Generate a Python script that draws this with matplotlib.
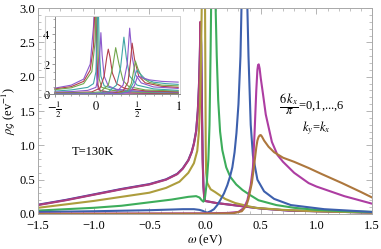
import matplotlib
matplotlib.use('Agg')
import matplotlib.pyplot as plt
from matplotlib.ticker import MultipleLocator, FixedLocator

plt.rcParams['font.family'] = ['Liberation Serif', 'DejaVu Serif']
plt.rcParams['mathtext.fontset'] = 'stix'

# main panel: rho_G(omega) for 6 kx/pi = 0..6, ky = kx
w0 = [-1.5, -1.25, -1.0, -0.75, -0.5, -0.35, -0.25, -0.2, -0.15, -0.12, -0.1, -0.08, -0.065, -0.055,
      -0.048, -0.04, -0.034, -0.028, -0.021, -0.014, -0.008, 0.0, 0.1, 0.2, 0.35, 0.5, 0.75, 1.0, 1.5]
r0 = [0.135, 0.205, 0.285, 0.365, 0.435, 0.505, 0.585, 0.665, 0.785, 0.905, 1.03, 1.21, 1.5, 1.85,
      2.25, 2.75, 2.45, 1.6, 0.8, 0.4, 0.25, 0.19, 0.16, 0.14, 0.11, 0.08, 0.05, 0.04, 0.02]

w1 = [-1.5, -1.25, -1.0, -0.75, -0.5, -0.35, -0.25, -0.2, -0.15, -0.12, -0.1, -0.08, -0.065, -0.055,
      -0.047, -0.042, -0.036, -0.03, -0.022, -0.015, -0.008, 0.0, 0.1, 0.2, 0.35, 0.5, 0.75, 1.0, 1.5]
r1 = [0.13, 0.2, 0.28, 0.36, 0.43, 0.5, 0.58, 0.66, 0.78, 0.9, 1.02, 1.2, 1.5, 1.85,
      2.3, 2.8, 2.5, 1.6, 0.8, 0.4, 0.25, 0.19, 0.16, 0.14, 0.11, 0.08, 0.05, 0.04, 0.02]

w2 = [-1.5, -1.25, -1.0, -0.75, -0.5, -0.35, -0.23, -0.15, -0.1, -0.07, -0.055, -0.045, -0.037, -0.03,
      -0.02, -0.012, -0.005, 0.0, 0.003, 0.006, 0.01, 0.02, 0.05, 0.09, 0.18, 0.27, 0.45, 0.7, 1.0, 1.5]
r2 = [0.09, 0.14, 0.19, 0.25, 0.31, 0.38, 0.47, 0.6, 0.74, 0.92, 1.2, 1.6, 2.2, 3.0,
      4.5, 5.0, 4.0, 3.0, 2.0, 1.0, 0.6, 0.45, 0.36, 0.32, 0.22, 0.16, 0.09, 0.06, 0.04, 0.02]

w3 = [-1.5, -1.0, -0.75, -0.5, -0.3, -0.15, -0.08, -0.05, -0.03, -0.015, 0.0, 0.015, 0.03, 0.04, 0.05,
      0.058, 0.072, 0.085, 0.095, 0.105, 0.118, 0.135, 0.155, 0.19, 0.227, 0.28, 0.336, 0.4, 0.48,
      0.64, 0.8, 1.0, 1.25, 1.5]
r3 = [0.05, 0.09, 0.12, 0.17, 0.21, 0.25, 0.26, 0.24, 0.2, 0.18, 0.25, 0.45, 0.8, 1.3, 2.4,
      3.5, 5.5, 4.0, 3.0, 2.3, 1.66, 1.2, 0.93, 0.68, 0.54, 0.43, 0.35, 0.28, 0.2,
      0.13, 0.09, 0.06, 0.04, 0.03]

w4 = [-1.5, -1.0, -0.5, -0.2, -0.1, -0.05, -0.02, 0.0, 0.02, 0.05, 0.08, 0.11, 0.136, 0.17, 0.2,
      0.225, 0.245, 0.265, 0.282, 0.3, 0.318, 0.327, 0.34, 0.355, 0.37, 0.38, 0.39, 0.41, 0.43,
      0.47, 0.53, 0.62, 0.77, 1.07, 1.5]
r4 = [0.03, 0.04, 0.055, 0.07, 0.07, 0.06, 0.045, 0.03, 0.02, 0.04, 0.07, 0.13, 0.2, 0.3, 0.42,
      0.55, 0.68, 0.9, 1.18, 1.6, 2.3, 3.0, 4.0, 4.5, 4.0, 3.0, 2.3, 1.3, 0.85,
      0.5, 0.33, 0.22, 0.13, 0.07, 0.03]

w5 = [-1.5, -0.5, 0.0, 0.2, 0.3, 0.35, 0.38, 0.41, 0.43, 0.445, 0.46, 0.47, 0.476, 0.482, 0.49, 0.5,
      0.52, 0.545, 0.6, 0.65, 0.7, 0.8, 0.93, 1.0, 1.25, 1.5]
r5 = [0.005, 0.008, 0.01, 0.015, 0.03, 0.09, 0.2, 0.42, 0.68, 1.2, 1.8, 2.1, 2.17, 2.18, 2.12, 1.98,
      1.75, 1.45, 1.05, 0.86, 0.76, 0.6, 0.45, 0.4, 0.26, 0.15]

w6 = [-1.5, 0.0, 0.25, 0.33, 0.37, 0.39, 0.42, 0.44, 0.46, 0.47, 0.48, 0.49, 0.5, 0.51, 0.53, 0.57,
      0.62, 0.7, 0.8, 0.93, 1.05, 1.23, 1.4, 1.5]
r6 = [0.0, 0.005, 0.01, 0.04, 0.12, 0.22, 0.45, 0.7, 0.97, 1.07, 1.12, 1.145, 1.15, 1.13, 1.07, 0.98,
      0.9, 0.82, 0.76, 0.67, 0.58, 0.45, 0.32, 0.24]

main_w = [w0, w1, w2, w3, w4, w5, w6]
main_r = [r0, r1, r2, r3, r4, r5, r6]
main_colors = ['#3F3DAD', '#AD3D7C', '#AD9D3D', '#3DAD5B', '#3D60AD', '#AD3DA2', '#AD773D']

# inset: finer set of k points along the diagonal (plot range -1/2 .. 1)
inset_w = [
    [-0.5, -0.3, -0.15, -0.07, -0.03, -0.01, 0.0, 0.01, 0.03, 0.1, 0.3, 0.6, 1.0],
    [-0.5, -0.3, -0.15, -0.07, -0.03, -0.005, 0.01, 0.025, 0.05, 0.15, 0.4, 1.0],
    [-0.5, -0.3, -0.15, -0.05, -0.01, 0.01, 0.025, 0.04, 0.07, 0.2, 0.5, 1.0],
    [-0.5, -0.3, -0.1, -0.03, 0.0, 0.015, 0.025, 0.04, 0.06, 0.1, 0.25, 0.5, 1.0],
    [-0.5, -0.3, -0.1, 0.0, 0.03, 0.045, 0.06, 0.075, 0.1, 0.15, 0.25, 0.5, 1.0],
    [-0.5, -0.3, -0.05, 0.05, 0.1, 0.13, 0.15, 0.17, 0.2, 0.25, 0.35, 0.6, 1.0],
    [-0.5, -0.1, 0.05, 0.15, 0.2, 0.24, 0.28, 0.33, 0.4, 0.6, 1.0],
    [-0.5, 0.0, 0.15, 0.25, 0.3, 0.34, 0.37, 0.41, 0.5, 0.7, 1.0],
    [-0.5, 0.1, 0.25, 0.33, 0.38, 0.41, 0.44, 0.48, 0.55, 0.7, 1.0],
    [-0.5, 0.2, 0.33, 0.39, 0.42, 0.44, 0.47, 0.52, 0.6, 0.8, 1.0],
    [-0.5, 0.25, 0.38, 0.43, 0.46, 0.48, 0.51, 0.56, 0.65, 0.8, 1.0],
    [-0.5, 0.3, 0.4, 0.45, 0.48, 0.5, 0.53, 0.6, 0.7, 0.85, 1.0],
    [-0.5, 0.3, 0.42, 0.47, 0.5, 0.52, 0.56, 0.65, 0.8, 1.0],
]
inset_r = [
    [0.4, 0.6, 1.0, 2.0, 4.5, 7.0, 4.0, 1.0, 0.3, 0.15, 0.08, 0.05, 0.03],
    [0.35, 0.5, 0.85, 1.6, 3.2, 7.0, 3.0, 0.6, 0.25, 0.15, 0.08, 0.04],
    [0.3, 0.42, 0.7, 1.5, 3.5, 7.0, 3.0, 1.0, 0.45, 0.25, 0.13, 0.07],
    [0.2, 0.28, 0.45, 0.7, 1.5, 4.0, 7.0, 3.0, 1.2, 0.55, 0.3, 0.18, 0.1],
    [0.14, 0.17, 0.25, 0.45, 1.2, 2.5, 4.1, 2.6, 1.2, 0.55, 0.32, 0.2, 0.12],
    [0.09, 0.1, 0.15, 0.4, 1.2, 2.4, 3.0, 2.5, 1.4, 0.7, 0.38, 0.22, 0.15],
    [0.06, 0.08, 0.15, 0.6, 1.7, 3.1, 2.0, 0.9, 0.5, 0.28, 0.2],
    [0.04, 0.06, 0.15, 0.6, 1.8, 3.8, 2.4, 1.2, 0.6, 0.35, 0.25],
    [0.03, 0.05, 0.15, 0.6, 2.0, 4.4, 2.5, 1.3, 0.75, 0.48, 0.38],
    [0.02, 0.05, 0.2, 0.8, 2.2, 3.4, 2.3, 1.2, 0.75, 0.52, 0.45],
    [0.02, 0.05, 0.2, 0.7, 1.6, 2.2, 1.7, 1.1, 0.78, 0.6, 0.55],
    [0.01, 0.04, 0.2, 0.7, 1.35, 1.6, 1.4, 1.0, 0.8, 0.7, 0.65],
    [0.01, 0.03, 0.15, 0.6, 1.1, 1.2, 1.1, 0.95, 0.85, 0.8],
]
inset_palette = ['#8C5ACC', '#B3404D', '#73A64D', '#40A6A6']

frame_gray = '#a8a8a8'

fig = plt.figure(figsize=(3.81, 2.49), dpi=100)
ax = fig.add_axes([0.0997, 0.1406, 0.877, 0.827])

for w, r, c in zip(main_w, main_r, main_colors):
    ax.plot(w, r, color=c, lw=1.5, solid_joinstyle='round')

ax.set_xlim(-1.5, 1.5)
ax.set_ylim(0, 3.0)
ax.xaxis.set_major_locator(MultipleLocator(0.5))
ax.xaxis.set_minor_locator(MultipleLocator(0.1))
ax.yaxis.set_major_locator(MultipleLocator(0.5))
ax.yaxis.set_minor_locator(MultipleLocator(0.1))
ax.xaxis.set_major_formatter(lambda v, p: f'{v:.1f}'.replace('-', '\u2212'))
ax.yaxis.set_major_formatter(lambda v, p: f'{v:.1f}')
ax.tick_params(which='both', direction='in', top=True, right=True, color=frame_gray,
               labelsize=9, pad=2)
ax.tick_params(axis='x', pad=4.5)
ax.tick_params(which='major', length=4, width=0.6)
ax.tick_params(which='minor', length=2, width=0.5)
for s in ax.spines.values():
    s.set_color(frame_gray)
    s.set_linewidth(0.7)

ax.set_xlabel(r'$\omega$ (eV)', fontsize=9, labelpad=0)
ax.set_ylabel(r'$\rho_{\mathcal{G}}$ (ev$^{-1}$)', fontsize=9, labelpad=1)

ax.text(-1.2, 0.9, 'T=130K', fontsize=9, ha='left', va='center')
ax.text(0.66, 1.6, r'$\dfrac{6\,k_x}{\pi}$=0,1,...,6', fontsize=9, ha='left', va='center')
ax.text(0.87, 1.25, r'$k_y$=$k_x$', fontsize=9, ha='left', va='center')

# inset, axes cross at (-1/2, 0) inside a light box
ins = fig.add_axes([0.118, 0.622, 0.354, 0.313])
for i, (w, r) in enumerate(zip(inset_w, inset_r)):
    ins.plot(w, r, color=inset_palette[i % 4], lw=0.8)
ins.set_xlim(-0.62, 1.02)
ins.set_ylim(0, 5.2)
ins.spines['left'].set_position(('data', -0.5))
ins.spines['left'].set_color('#888888')
ins.spines['bottom'].set_color('#888888')
for side in ['top', 'right']:
    ins.spines[side].set_color('#d0d0d0')
ins.plot([0, 0], [0, 1], transform=ins.transAxes, color='#d0d0d0', lw=0.8, clip_on=False)
for s in ins.spines.values():
    s.set_linewidth(0.7)
ins.xaxis.set_major_locator(FixedLocator([-0.5, 0, 0.5, 1]))
ins.xaxis.set_minor_locator(MultipleLocator(0.1))
ins.yaxis.set_major_locator(FixedLocator([0, 2, 4]))
ins.yaxis.set_minor_locator(MultipleLocator(0.5))
ins.set_xticklabels([r'$-\frac{1}{2}$', r'$0$', r'$\frac{1}{2}$', r'$1$'])
ins.tick_params(which='both', direction='out', color='#888888', labelsize=9, pad=1.5)
ins.tick_params(which='major', length=2.5, width=0.6)
ins.tick_params(which='minor', length=1.2, width=0.5)

plt.savefig('out.png', dpi=100)
